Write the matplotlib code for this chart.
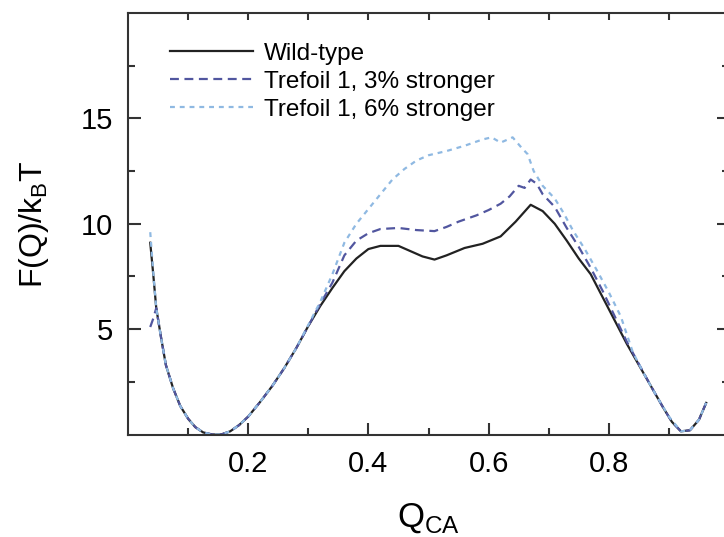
import numpy as np
import matplotlib
matplotlib.use('Agg')
import matplotlib.pyplot as plt

plt.rcParams['font.family'] = ['Liberation Sans', 'DejaVu Sans']
plt.rcParams['mathtext.fontset'] = 'custom'
plt.rcParams['mathtext.rm'] = 'Liberation Sans'

# free energy profiles
q_wt = [0.037, 0.042, 0.047, 0.055, 0.063, 0.075, 0.087, 0.100, 0.112, 0.125, 0.14, 0.155,
        0.17, 0.185, 0.20, 0.22, 0.24, 0.26, 0.28, 0.30, 0.32, 0.34, 0.36, 0.38, 0.40,
        0.42, 0.45, 0.47, 0.49, 0.51, 0.53, 0.56, 0.59, 0.62, 0.645, 0.67, 0.69, 0.71,
        0.73, 0.75, 0.77, 0.79, 0.81, 0.83, 0.85, 0.87, 0.89, 0.905, 0.92, 0.935, 0.95, 0.962]
f_wt = [9.1, 7.6, 6.0, 4.6, 3.3, 2.2, 1.35, 0.75, 0.35, 0.1, 0.0, 0.0,
        0.15, 0.45, 0.85, 1.55, 2.3, 3.15, 4.1, 5.15, 6.1, 6.95, 7.75, 8.35, 8.8,
        8.95, 8.95, 8.7, 8.45, 8.3, 8.5, 8.85, 9.05, 9.4, 10.1, 10.9, 10.6, 10.0,
        9.2, 8.35, 7.6, 6.5, 5.4, 4.3, 3.3, 2.3, 1.3, 0.6, 0.15, 0.2, 0.7, 1.5]

q_3 = [0.037, 0.042, 0.047, 0.055, 0.063, 0.075, 0.087, 0.100, 0.112, 0.125, 0.14, 0.155,
       0.17, 0.185, 0.20, 0.22, 0.24, 0.26, 0.28, 0.30, 0.32, 0.34, 0.36, 0.38, 0.40,
       0.42, 0.45, 0.48, 0.51, 0.53, 0.55, 0.58, 0.60, 0.62, 0.635, 0.65, 0.66, 0.67,
       0.68, 0.69, 0.71, 0.73, 0.75, 0.77, 0.79, 0.81, 0.83, 0.85, 0.87, 0.89, 0.905,
       0.92, 0.935, 0.95, 0.962]
f_3 = [5.1, 5.5, 6.0, 4.6, 3.3, 2.2, 1.35, 0.75, 0.35, 0.1, 0.0, 0.0,
       0.15, 0.45, 0.85, 1.55, 2.3, 3.15, 4.1, 5.15, 6.2, 7.2, 8.5, 9.2, 9.55,
       9.75, 9.8, 9.7, 9.65, 9.85, 10.1, 10.4, 10.65, 10.95, 11.3, 11.8, 11.7, 12.1,
       11.9, 11.4, 10.8, 9.8, 8.9, 7.9, 6.8, 5.6, 4.4, 3.35, 2.3, 1.3, 0.6,
       0.15, 0.2, 0.7, 1.5]

q_6 = [0.037, 0.042, 0.047, 0.055, 0.063, 0.075, 0.087, 0.100, 0.112, 0.125, 0.14, 0.155,
       0.17, 0.185, 0.20, 0.22, 0.24, 0.26, 0.28, 0.30, 0.32, 0.34, 0.36, 0.38, 0.40,
       0.42, 0.44, 0.46, 0.48, 0.50, 0.53, 0.56, 0.59, 0.605, 0.62, 0.64, 0.655, 0.665,
       0.675, 0.69, 0.71, 0.725, 0.74, 0.76, 0.78, 0.80, 0.82, 0.84, 0.86, 0.88, 0.90,
       0.92, 0.935, 0.95, 0.962]
f_6 = [9.6, 7.7, 6.0, 4.6, 3.3, 2.2, 1.35, 0.75, 0.35, 0.1, 0.0, 0.0,
       0.15, 0.45, 0.85, 1.55, 2.3, 3.15, 4.1, 5.2, 6.3, 7.6, 9.1, 10.0, 10.7,
       11.4, 12.1, 12.6, 13.0, 13.25, 13.45, 13.7, 14.0, 14.1, 13.85, 14.1, 13.6, 13.3,
       12.5, 11.8, 11.2, 10.5, 9.7, 8.8, 7.8, 6.75, 5.6, 3.9, 2.8, 1.8, 0.85,
       0.15, 0.2, 0.7, 1.5]

labels = ['Wild-type', 'Trefoil 1, 3% stronger', 'Trefoil 1, 6% stronger']

fig = plt.figure(figsize=(7.24, 5.37), dpi=100)
ax = fig.add_axes([128/724, 102.5/537, 601/724, 421.5/537])

ax.plot(q_wt, f_wt, color='#222222', lw=1.6, label=labels[0])
ax.plot(q_3, f_3, color='#51569f', lw=1.6, dashes=(4, 2.5), label=labels[1])
ax.plot(q_6, f_6, color='#8fb9e2', lw=1.6, dashes=(2.2, 2.2), label=labels[2])

ax.set_xlim(0, 1.0)
ax.set_ylim(0, 20)
ax.set_xticks([0.2, 0.4, 0.6, 0.8])
ax.set_xticks([0.1, 0.3, 0.5, 0.7, 0.9], minor=True)
ax.set_yticks([5, 10, 15])
ax.set_yticks([2.5, 7.5, 12.5, 17.5], minor=True)
ax.tick_params(which='both', direction='in', right=True, top=False,
               width=1.5, color='#333333', labelsize=21)
ax.tick_params(which='major', length=9)
ax.tick_params(which='minor', length=5)
ax.tick_params(axis='x', pad=11)
ax.tick_params(axis='y', pad=11)

top = ax.secondary_xaxis('top')
top.set_xticks(np.arange(0.1, 1.0, 0.1))
top.tick_params(direction='in', length=5, width=1.5, color='#333333', labeltop=False)
top.spines['top'].set_visible(False)

for s in ax.spines.values():
    s.set_linewidth(1.5)
    s.set_color('#333333')

ax.set_xlabel('Q$_\\mathregular{CA}$', fontsize=25, labelpad=17)
ax.set_ylabel('F(Q)/k$_\\mathregular{B}$T', fontsize=23, labelpad=21)

ax.legend(loc='upper left', bbox_to_anchor=(0.07, 0.93), frameon=False,
          fontsize=17.5, handlelength=3.4, handletextpad=0.45,
          labelspacing=0.25, borderpad=0, borderaxespad=0)

fig.savefig('out.png', dpi=100)
